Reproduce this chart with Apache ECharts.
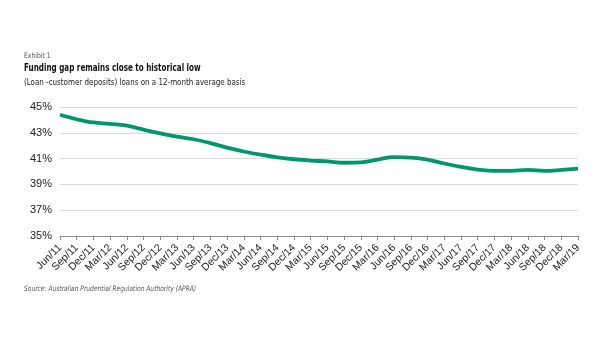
<!DOCTYPE html>
<html>
<head>
<meta charset="utf-8">
<script src="https://cdn.jsdelivr.net/npm/echarts@6/dist/echarts.min.js"></script>
<style>html,body{margin:0;padding:0;background:#fff;}#c{width:600px;height:360px;}</style>
</head>
<body>
<div id="c"></div>
<script>
const categories = ["Jun/11","Sep/11","Dec/11","Mar/12","Jun/12","Sep/12","Dec/12","Mar/13","Jun/13","Sep/13","Dec/13","Mar/14","Jun/14","Sep/14","Dec/14","Mar/15","Jun/15","Sep/15","Dec/15","Mar/16","Jun/16","Sep/16","Dec/16","Mar/17","Jun/17","Sep/17","Dec/17","Mar/18","Jun/18","Sep/18","Dec/18","Mar/19"];
const fundingGap = [44.4,44.05,43.8,43.7,43.55,43.25,42.95,42.7,42.5,42.2,41.85,41.55,41.3,41.1,40.95,40.85,40.78,40.68,40.7,40.92,41.12,41.08,40.92,40.62,40.35,40.15,40.05,40.05,40.12,40.05,40.12,40.22];
const yTicks = [35,37,39,41,43,45];

const narrow = '"Liberation Sans Narrow","DejaVu Sans Condensed","Liberation Sans",sans-serif';
const chart = echarts.init(document.getElementById('c'), null, {renderer:'canvas'});
chart.setOption({
  animation:false,
  backgroundColor:'#fff',
  grid:{left:60, top:107, width:518, height:129, containLabel:false},
  xAxis:{
    type:'category', data:categories, boundaryGap:false,
    axisLine:{lineStyle:{color:'#8c8c8c', width:1}},
    axisTick:{show:true, length:4, alignWithLabel:true, lineStyle:{color:'#8c8c8c'}},
    axisLabel:{rotate:45, interval:0, fontSize:10.5, color:'#222', margin:10, fontFamily:'"Liberation Sans",Arial,sans-serif'}
  },
  yAxis:{
    type:'value', min:yTicks[0], max:yTicks[yTicks.length-1], interval:2,
    axisLine:{show:false}, axisTick:{show:false},
    splitLine:{lineStyle:{color:'#dcdcdc', width:1}},
    axisLabel:{formatter:v=>v+'%', fontSize:11, color:'#222', margin:8, fontFamily:'"Liberation Sans",Arial,sans-serif'}
  },
  series:[{
    type:'line', data:fundingGap, smooth:0.4, symbol:'none',
    lineStyle:{color:'#00976c', width:3.8}
  }],
  graphic:[
    {type:'text', x:24, y:55.7, scaleX:0.9, style:{text:'Exhibit 1', font:'7.5px '+narrow, fill:'#555', verticalAlign:'middle'}},
    {type:'text', x:24, y:68.5, scaleX:0.8, style:{text:'Funding gap remains close to historical low', font:'bold 10px '+narrow, fill:'#111', verticalAlign:'middle'}},
    {type:'text', x:24, y:82.3, scaleX:0.88, style:{text:'(Loan -customer deposits) loans on a 12-month average basis', font:'9px '+narrow, fill:'#222', verticalAlign:'middle'}},
    {type:'text', x:24, y:288.7, scaleX:0.88, style:{text:'Source: Australian Prudential Regulation Authority (APRA)', font:'italic 7.5px '+narrow, fill:'#555', verticalAlign:'middle'}}
  ]
});
</script>
</body>
</html>
